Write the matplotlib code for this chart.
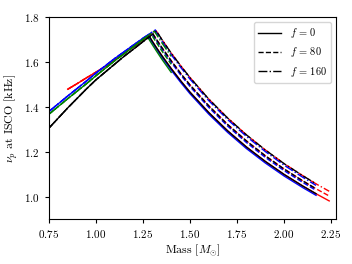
import matplotlib
matplotlib.use("Agg")
import matplotlib.pyplot as plt
import numpy as np

plt.rcParams['font.family'] = 'serif'
plt.rcParams['font.serif'] = ['cmr10', 'DejaVu Serif']
plt.rcParams['mathtext.fontset'] = 'cm'
plt.rcParams['axes.formatter.use_mathtext'] = True

# ---- data ----
f_values = [0, 80, 160]
f_styles = ['-', '--', '-.']

# rising (surface) branch per EoS
rise_mass_black = [0.75, 0.85, 0.95, 1.00, 1.05, 1.10, 1.15, 1.20, 1.25, 1.30, 1.33]
rise_nu_black   = [1.305, 1.395, 1.480, 1.520, 1.555, 1.590, 1.625, 1.657, 1.690, 1.722, 1.742]
rise_mass_blue  = [0.75, 0.85, 0.95, 1.00, 1.10, 1.20, 1.25, 1.30, 1.33]
rise_nu_blue    = [1.379, 1.448, 1.515, 1.550, 1.615, 1.675, 1.705, 1.733, 1.750]
rise_mass_green = [0.75, 0.85, 0.95, 1.00, 1.10, 1.20, 1.25, 1.30, 1.33]
rise_nu_green   = [1.367, 1.436, 1.503, 1.538, 1.605, 1.668, 1.700, 1.730, 1.748]
rise_mass_red   = [0.85, 0.90, 0.95, 1.00, 1.05, 1.10, 1.15, 1.20, 1.25, 1.30, 1.33]
rise_nu_red     = [1.478, 1.503, 1.529, 1.554, 1.580, 1.608, 1.638, 1.668, 1.699, 1.730, 1.748]

# peak masses (where the branches meet) for f = 0, 80, 160
peak_black = [1.285, 1.303, 1.322]
peak_blue  = [1.277, 1.297, 1.316]
peak_green = [1.272, 1.290, 1.310]
peak_red   = [1.272, 1.290, 1.310]

# ISCO branch (common grid)
desc_mass = [1.26, 1.28, 1.30, 1.32, 1.35, 1.40, 1.45, 1.50, 1.60, 1.70, 1.80,
             1.90, 2.00, 2.10, 2.17, 2.24]
desc_nu_f0   = [1.744, 1.717, 1.691, 1.665, 1.628, 1.570, 1.516, 1.465, 1.374,
                1.293, 1.221, 1.157, 1.099, 1.047, 1.013, 0.981]
desc_nu_f80  = [1.783, 1.755, 1.728, 1.702, 1.664, 1.605, 1.549, 1.497, 1.404,
                1.321, 1.248, 1.182, 1.123, 1.070, 1.035, 1.003]
desc_nu_f160 = [1.821, 1.793, 1.765, 1.738, 1.700, 1.639, 1.583, 1.530, 1.434,
                1.350, 1.275, 1.208, 1.147, 1.093, 1.057, 1.024]
# blue ISCO branch sits a touch below the black one
desc_nu_blue_f0   = [1.738, 1.711, 1.685, 1.659, 1.621, 1.563, 1.509, 1.458, 1.367,
                     1.286, 1.214, 1.150, 1.092, 1.040, 1.006, 0.975]
desc_nu_blue_f80  = [1.777, 1.749, 1.722, 1.696, 1.657, 1.598, 1.542, 1.490, 1.397,
                     1.314, 1.241, 1.175, 1.116, 1.063, 1.028, 0.996]
desc_nu_blue_f160 = [1.815, 1.787, 1.759, 1.732, 1.693, 1.632, 1.576, 1.523, 1.427,
                     1.343, 1.268, 1.201, 1.140, 1.086, 1.050, 1.017]
# green ISCO branch (short, slightly lower)
desc_nu_green_f0   = [1.730, 1.703, 1.676, 1.650, 1.612, 1.553, 1.498, 1.448, 1.357,
                      1.277, 1.206, 1.143, 1.086, 1.034, 1.000, 0.969]
desc_nu_green_f80  = [1.770, 1.742, 1.714, 1.688, 1.649, 1.589, 1.532, 1.480, 1.388,
                      1.305, 1.233, 1.168, 1.110, 1.057, 1.022, 0.990]
desc_nu_green_f160 = [1.808, 1.780, 1.751, 1.724, 1.685, 1.624, 1.567, 1.513, 1.419,
                      1.334, 1.260, 1.194, 1.134, 1.080, 1.044, 1.012]

max_mass = {'black': 2.17, 'blue': 2.17, 'green': 1.40, 'red': 2.24}

eos = {
    'red':   (rise_mass_red, rise_nu_red, peak_red,
              [desc_nu_f0, desc_nu_f80, desc_nu_f160]),
    'green': (rise_mass_green, rise_nu_green, peak_green,
              [desc_nu_green_f0, desc_nu_green_f80, desc_nu_green_f160]),
    'blue':  (rise_mass_blue, rise_nu_blue, peak_blue,
              [desc_nu_blue_f0, desc_nu_blue_f80, desc_nu_blue_f160]),
    'black': (rise_mass_black, rise_nu_black, peak_black,
              [desc_nu_f0, desc_nu_f80, desc_nu_f160]),
}

fig = plt.figure(figsize=(3.52, 2.64), dpi=100)
ax = fig.add_axes([0.139, 0.170, 0.816, 0.766])

for color in ['red', 'blue', 'green', 'black']:
    rm, rn, peaks, descs = eos[color]
    rm = np.array(rm); rn = np.array(rn)
    dm = np.array(desc_mass)
    for k in range(3):
        pk = peaks[k]
        dn = np.array(descs[k])
        pv = np.interp(pk, rm, rn)
        sel_r = rm < pk
        sel_d = (dm > pk) & (dm <= max_mass[color] + 1e-9)
        m = np.concatenate([rm[sel_r], [pk], dm[sel_d]])
        v = np.concatenate([rn[sel_r], [pv], dn[sel_d]])
        ax.plot(m, v, color=color, ls=f_styles[k], lw=1.0)

for f, s in zip(f_values, f_styles):
    ax.plot([], [], color='black', ls=s, lw=1.0, label=r'$f\,=\,%d$' % f)

ax.set_xlim(0.75, 2.277)
ax.set_ylim(0.90, 1.80)
ax.set_xticks([0.75, 1.00, 1.25, 1.50, 1.75, 2.00, 2.25])
ax.set_yticks([1.0, 1.2, 1.4, 1.6, 1.8])
ax.tick_params(labelsize=8, length=3, width=0.8)
ax.set_xlabel(r'Mass $[M_{\odot}]$', fontsize=8.5, labelpad=2)
ax.set_ylabel(r'$\nu_p$ at ISCO [kHz]', fontsize=8.5, labelpad=3)
ax.legend(loc='upper right', fontsize=7.5, handlelength=2.2, framealpha=0.8)

fig.savefig('out.png', dpi=100)
